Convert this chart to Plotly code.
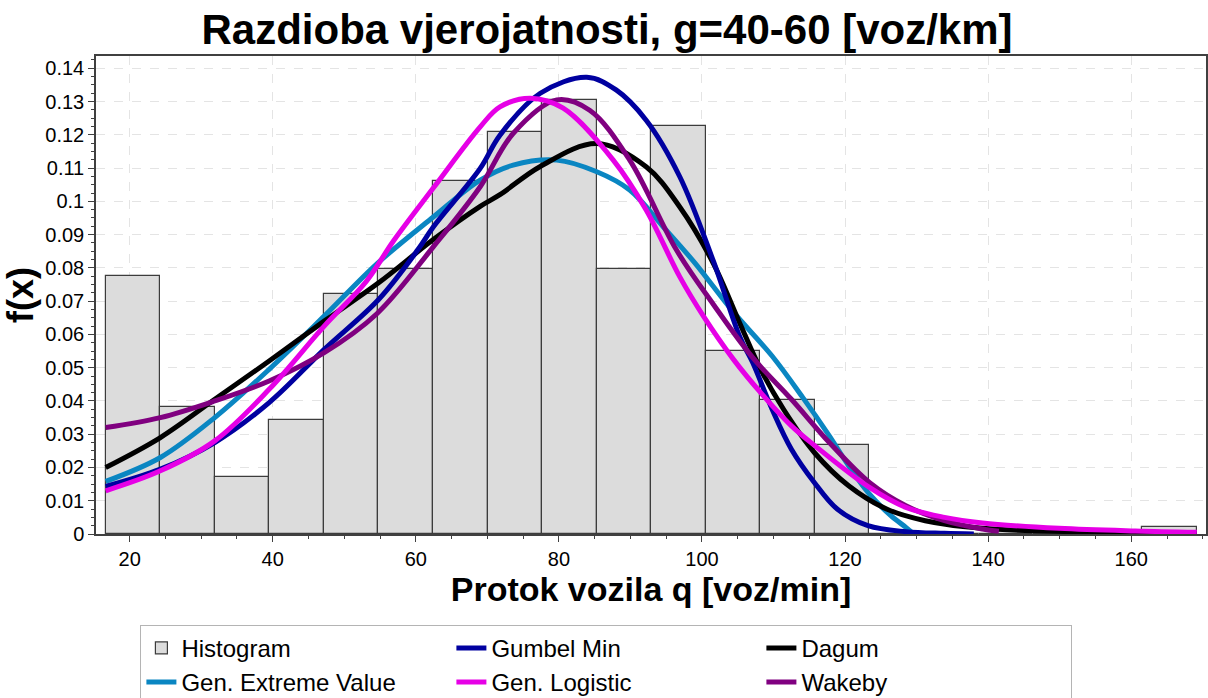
import plotly.graph_objects as go

# ---- histogram (relative frequency per class) ----
bin_edges = [16.65, 24.28, 31.90, 39.53, 47.15, 54.78, 62.41, 70.03, 77.66, 85.28,
             92.91, 100.54, 108.16, 115.79, 123.41, 131.04, 138.67, 146.29, 153.92,
             161.54, 169.17]
hist_freq = [0.0777, 0.0381, 0.0172, 0.0344, 0.0721, 0.0797, 0.1061, 0.1210, 0.1305, 0.0797,
             0.1228, 0.0550, 0.0402, 0.0268, 0.0, 0.0, 0.0, 0.0, 0.0, 0.0022]

# ---- fitted distributions (q, f(q)) ----
gumbel_q = [16.65, 24.3, 31.9, 39.5, 47.2, 54.8, 60.3, 62.44, 69.0, 71.76, 77.4, 83.9, 88.0,
            92.2, 96.9, 101.6, 105.3, 107.1, 109.8, 112.5, 115.7, 118.9, 123.2, 128.5, 133.9, 138.0]
gumbel_f = [0.0143, 0.0195, 0.0275, 0.0395, 0.0555, 0.0705, 0.0855, 0.0923, 0.1099, 0.1199,
            0.1325, 0.1373, 0.1335, 0.1244, 0.1074, 0.0820, 0.0592, 0.0515, 0.0375, 0.0255,
            0.0155, 0.0075, 0.0025, 0.0007, 0.0002, 0.0]

dagum_q = [16.65, 24.3, 31.9, 39.5, 47.2, 54.8, 62.44, 69.0, 71.76, 77.4, 85.3, 92.2, 96.9,
           101.6, 105.3, 108.2, 111.4, 115.7, 120.5, 125.8, 131.2, 139.2, 152.6, 169.17]
dagum_f = [0.0200, 0.0290, 0.0405, 0.0520, 0.0640, 0.0755, 0.0885, 0.0985, 0.1020, 0.1105,
           0.1174, 0.1104, 0.0983, 0.0813, 0.0633, 0.0495, 0.0375, 0.0245, 0.0145, 0.0075,
           0.0040, 0.0017, 0.0007, 0.0002]

gev_q = [16.65, 24.3, 31.9, 39.5, 47.2, 54.6, 62.44, 69.0, 73.6, 79.7, 85.3, 89.9, 94.6, 99.0,
         104.2, 109.8, 114.1, 117.8, 120.5, 123.2, 126.4, 128.5, 129.6]
gev_f = [0.0158, 0.0230, 0.0350, 0.0495, 0.0655, 0.0813, 0.0953, 0.1064, 0.1109, 0.1124,
         0.1089, 0.1034, 0.0923, 0.0815, 0.0672, 0.0535, 0.0410, 0.0295, 0.0205, 0.0125,
         0.0055, 0.0020, 0.0]

genlog_q = [16.65, 24.3, 31.9, 39.5, 47.2, 53.1, 56.85, 62.44, 69.0, 71.76, 76.0, 80.6, 87.6,
            92.2, 96.9, 100.2, 104.4, 108.2, 112.5, 115.8, 123.4, 128.5, 133.9, 139.2, 149.9,
            160.6, 169.17]
genlog_f = [0.0130, 0.0190, 0.0280, 0.0435, 0.0625, 0.0760, 0.0880, 0.1040, 0.1224, 0.1284,
            0.1310, 0.1280, 0.1124, 0.0974, 0.0773, 0.0655, 0.0525, 0.0425, 0.0325, 0.0265,
            0.0140, 0.0080, 0.0050, 0.0033, 0.0017, 0.0009, 0.0005]

wakeby_q = [16.65, 24.3, 31.9, 39.5, 47.2, 54.6, 62.44, 69.0, 73.6, 79.7, 84.3, 89.9, 96.4,
            101.6, 107.1, 112.5, 117.8, 123.4, 128.5, 133.9, 139.2, 141.5]
wakeby_f = [0.0320, 0.0350, 0.0400, 0.0460, 0.0545, 0.0663, 0.0863, 0.1044, 0.1204, 0.1305,
            0.1274, 0.1124, 0.0855, 0.0690, 0.0530, 0.0405, 0.0275, 0.0155, 0.0085, 0.0040,
            0.0015, 0.0008]

x_tick_vals = [20, 40, 60, 80, 100, 120, 140, 160]
y_tick_vals = [0, 0.01, 0.02, 0.03, 0.04, 0.05, 0.06, 0.07, 0.08, 0.09, 0.10, 0.11, 0.12, 0.13, 0.14]
y_tick_text = ["0", "0.01", "0.02", "0.03", "0.04", "0.05", "0.06", "0.07", "0.08", "0.09",
               "0.1", "0.11", "0.12", "0.13", "0.14"]

FONT = "Arial, 'Liberation Sans', sans-serif"

bin_centers = [(a + b) / 2 for a, b in zip(bin_edges[:-1], bin_edges[1:])]
bin_widths = [b - a for a, b in zip(bin_edges[:-1], bin_edges[1:])]

fig = go.Figure()

fig.add_trace(go.Bar(
    x=bin_centers, y=hist_freq, width=bin_widths, name="Histogram",
    marker=dict(color="#dcdcdc", line=dict(color="#3c3c3c", width=1.2)),
    legendrank=1,
))

curves = [
    ("Gen. Extreme Value", gev_q, gev_f, "#0a86c2", 4),
    ("Dagum", dagum_q, dagum_f, "#000000", 3),
    ("Gumbel Min", gumbel_q, gumbel_f, "#0000a0", 2),
    ("Wakeby", wakeby_q, wakeby_f, "#800080", 6),
    ("Gen. Logistic", genlog_q, genlog_f, "#e600e6", 5),
]
for name, xs, ys, col, rank in curves:
    fig.add_trace(go.Scatter(
        x=xs, y=ys, name=name, mode="lines",
        line=dict(color=col, width=5, shape="spline", smoothing=1.0),
        legendrank=rank,
    ))

fig.update_layout(
    width=1208, height=698,
    margin=dict(l=96, r=2, t=56, b=164, autoexpand=False),
    paper_bgcolor="white", plot_bgcolor="white",
    font=dict(family=FONT, color="black"),
    bargap=0,
    title=dict(text="<b>Razdioba vjerojatnosti, g=40-60 [voz/km]</b>",
               font=dict(size=42, family=FONT, color="black"),
               x=0.5025, xanchor="center", y=0.958, yanchor="middle", xref="container"),
    legend=dict(
        orientation="h", x=0.04, xanchor="left", y=-0.19, yanchor="top",
        font=dict(size=24, family=FONT, color="black"),
        bgcolor="white", bordercolor="#b4b4b4", borderwidth=1,
        entrywidth=265, traceorder="normal", tracegroupgap=0,
    ),
    xaxis=dict(
        range=[15.3, 170.45], tickvals=x_tick_vals,
        tickfont=dict(size=20, family=FONT, color="black"),
        ticks="outside", ticklen=6, tickcolor="#404040",
        showline=True, linecolor="#404040", linewidth=1.5, mirror=True,
        showgrid=True, gridcolor="#e4e4e4", griddash="dash", gridwidth=1,
        zeroline=False,
        minor=dict(tickmode="linear", tick0=0, dtick=5, ticks="outside", ticklen=3,
                   tickcolor="#404040", showgrid=False),
        title=dict(text="<b>Protok vozila q [voz/min]</b>",
                   font=dict(size=34, family=FONT, color="black"), standoff=6),
    ),
    yaxis=dict(
        range=[0, 0.1437], tickvals=y_tick_vals, ticktext=y_tick_text,
        tickfont=dict(size=20, family=FONT, color="black"),
        ticks="outside", ticklen=6, tickcolor="#404040",
        showline=True, linecolor="#404040", linewidth=1.5, mirror=True,
        showgrid=True, gridcolor="#e4e4e4", griddash="dash", gridwidth=1,
        zeroline=False,
        minor=dict(tickmode="linear", tick0=0, dtick=0.0025, ticks="outside", ticklen=3,
                   tickcolor="#404040", showgrid=False),
        title=dict(text="<b>f(x)</b>",
                   font=dict(size=36, family=FONT, color="black"), standoff=4),
    ),
)

fig.write_html("out.html")
